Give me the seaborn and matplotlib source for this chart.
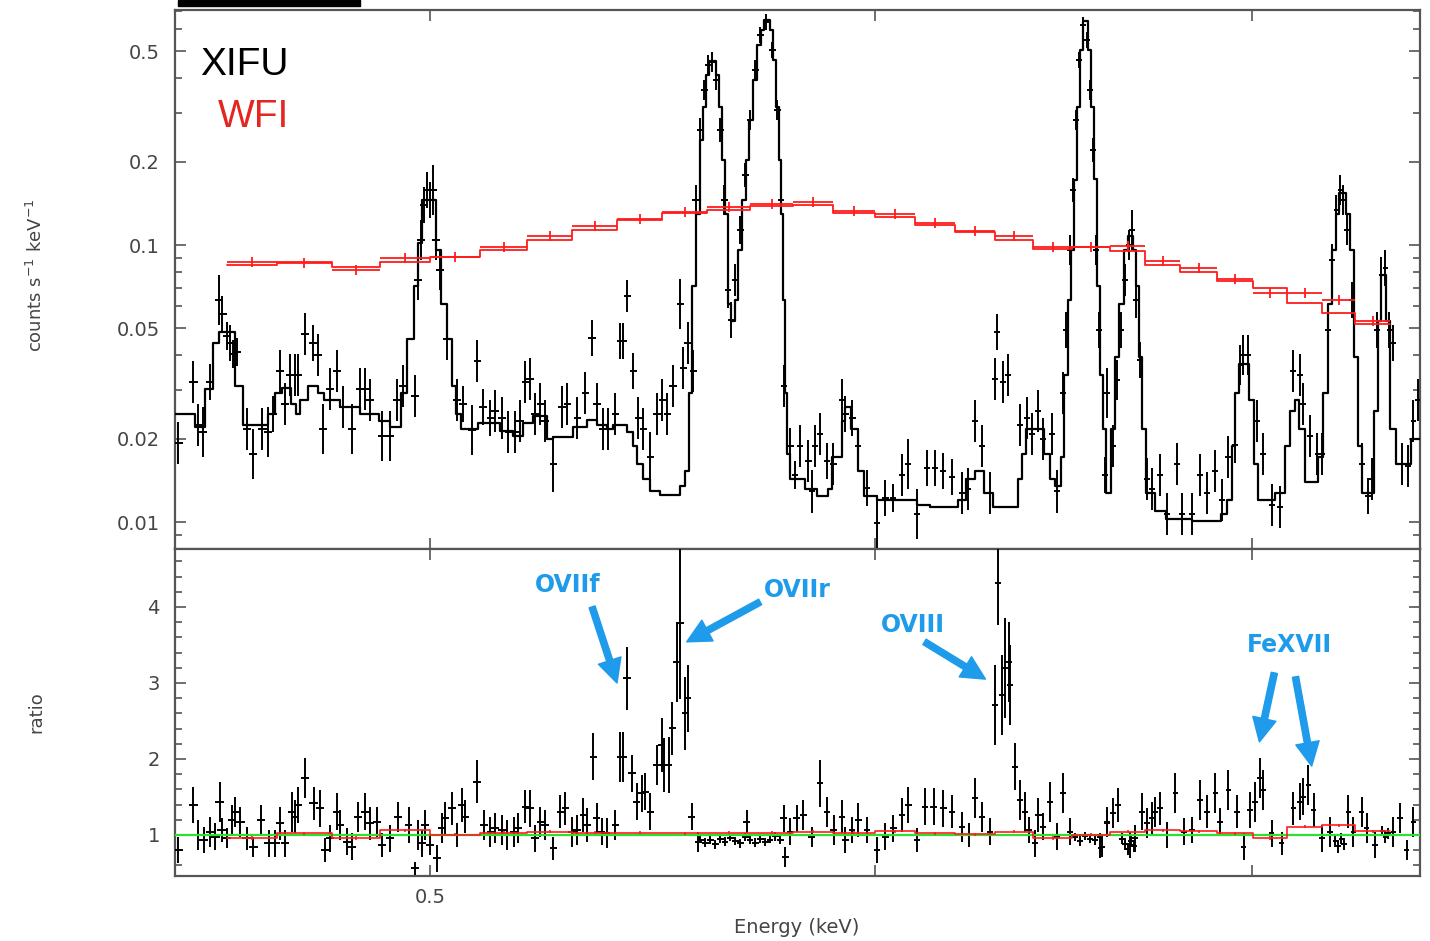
import numpy as np
import matplotlib
matplotlib.use("Agg")
import matplotlib.pyplot as plt
import seaborn as sns
from matplotlib.ticker import (FixedLocator, FixedFormatter, NullLocator,
                               NullFormatter, MultipleLocator, LogLocator)
from matplotlib.patches import Rectangle

# ---------------- XIFU model (step line, bin start energies in keV) ----------------
xifu_model_energy = [
    0.4504, 0.4541, 0.4560, 0.4575, 0.4586, 0.4616, 0.4631, 0.4679, 0.4693, 0.4706,
    0.4723, 0.4733, 0.4741, 0.4756, 0.4776, 0.4788, 0.4819, 0.4859, 0.4897, 0.4919,
    0.4941, 0.4953, 0.4968, 0.4976, 0.4984, 0.5013, 0.5023, 0.5035, 0.5045, 0.5054,
    0.5064, 0.5100, 0.5146, 0.5173, 0.5195, 0.5216, 0.5246, 0.5259, 0.5302, 0.5332,
    0.5354, 0.5376, 0.5389, 0.5421, 0.5434, 0.5443, 0.5456, 0.5472, 0.5494, 0.5539,
    0.5551, 0.5560, 0.5566, 0.5575, 0.5585, 0.5592, 0.5599, 0.5606, 0.5622, 0.5629,
    0.5636, 0.5642, 0.5649, 0.5656, 0.5666, 0.5673, 0.5682, 0.5691, 0.5698, 0.5707,
    0.5717, 0.5726, 0.5733, 0.5747, 0.5754, 0.5762, 0.5769, 0.5773, 0.5778, 0.5783,
    0.5788, 0.5795, 0.5830, 0.5859, 0.5886, 0.5895, 0.5919, 0.5927, 0.5941, 0.5958,
    0.5973, 0.6005, 0.6104, 0.6137, 0.6207, 0.6228, 0.6251, 0.6274, 0.6297, 0.6362,
    0.6372, 0.6383, 0.6430, 0.6446, 0.6459, 0.6475, 0.6483, 0.6494, 0.6502, 0.6510,
    0.6518, 0.6526, 0.6534, 0.6547, 0.6555, 0.6563, 0.6571, 0.6579, 0.6587, 0.6595,
    0.6609, 0.6620, 0.6630, 0.6644, 0.6655, 0.6669, 0.6677, 0.6685, 0.6693, 0.6704,
    0.6729, 0.6760, 0.6832, 0.6914, 0.6931, 0.6945, 0.6953, 0.6965, 0.6993, 0.7007,
    0.7019, 0.7068, 0.7097, 0.7111, 0.7126, 0.7138, 0.7155, 0.7194, 0.7209, 0.7223,
    0.7235, 0.7247, 0.7256, 0.7277, 0.7288, 0.7300, 0.7312, 0.7324, 0.7360, 0.7372,
    0.7382, 0.7397, 0.7409, 0.7427, 0.7473]
xifu_model_counts = [
    0.0245, 0.0220, 0.0302, 0.0443, 0.0485, 0.0310, 0.0224, 0.0245, 0.0292, 0.0305,
    0.0267, 0.0245, 0.0276, 0.0310, 0.0292, 0.0276, 0.0260, 0.0245, 0.0232, 0.0220,
    0.0292, 0.0458, 0.0711, 0.1017, 0.1454, 0.0959, 0.0612, 0.0458, 0.0310, 0.0245,
    0.0217, 0.0228, 0.0213, 0.0204, 0.0228, 0.0241, 0.0199, 0.0203, 0.0220, 0.0234,
    0.0224, 0.0217, 0.0224, 0.0211, 0.0188, 0.0162, 0.0143, 0.0129, 0.0125, 0.0135,
    0.0153, 0.0292, 0.0711, 0.1294, 0.2393, 0.3149, 0.4109, 0.4616, 0.4109, 0.3149,
    0.2027, 0.1294, 0.0612, 0.0532, 0.0633, 0.0959, 0.1454, 0.2027, 0.2827, 0.3941,
    0.5273, 0.5973, 0.6491, 0.5973, 0.4654, 0.3149, 0.2027, 0.1294, 0.0633, 0.0292,
    0.0176, 0.0143, 0.0132, 0.0124, 0.0132, 0.0172, 0.0232, 0.0260, 0.0217, 0.0153,
    0.0124, 0.0120, 0.0115, 0.0113, 0.0120, 0.0143, 0.0153, 0.0127, 0.0113, 0.0143,
    0.0176, 0.0217, 0.0176, 0.0143, 0.0135, 0.0172, 0.0340, 0.0633, 0.0959, 0.1717,
    0.3149, 0.5058, 0.6437, 0.5058, 0.3149, 0.1731, 0.0711, 0.0340, 0.0217, 0.0127,
    0.0217, 0.0394, 0.0612, 0.0959, 0.1078, 0.0959, 0.0711, 0.0394, 0.0217, 0.0127,
    0.0110, 0.0103, 0.0101, 0.0107, 0.0120, 0.0188, 0.0292, 0.0372, 0.0276, 0.0162,
    0.0120, 0.0127, 0.0188, 0.0252, 0.0276, 0.0217, 0.0139, 0.0172, 0.0292, 0.0612,
    0.0959, 0.1294, 0.1541, 0.1294, 0.0959, 0.0394, 0.0188, 0.0127, 0.0252, 0.0532,
    0.0779, 0.0532, 0.0217, 0.0162, 0.0199]

# ---------------- XIFU data points ----------------
xifu_energy = [
    0.4510, 0.4538, 0.4547, 0.4556, 0.4569, 0.4586, 0.4592, 0.4601, 0.4607, 0.4613,
    0.4620, 0.4639, 0.4650, 0.4668, 0.4679, 0.4689, 0.4702, 0.4712, 0.4721, 0.4731,
    0.4737, 0.4750, 0.4766, 0.4776, 0.4786, 0.4800, 0.4813, 0.4825, 0.4843, 0.4859,
    0.4869, 0.4879, 0.4903, 0.4919, 0.4933, 0.4945, 0.4970, 0.4976, 0.4982, 0.4988,
    0.4994, 0.5000, 0.5006, 0.5012, 0.5020, 0.5035, 0.5056, 0.5068, 0.5087, 0.5098,
    0.5110, 0.5125, 0.5135, 0.5150, 0.5163, 0.5177, 0.5188, 0.5199, 0.5209, 0.5220,
    0.5231, 0.5241, 0.5259, 0.5278, 0.5289, 0.5311, 0.5328, 0.5343, 0.5354, 0.5367,
    0.5378, 0.5394, 0.5405, 0.5412, 0.5421, 0.5434, 0.5445, 0.5456, 0.5472, 0.5487,
    0.5499, 0.5510, 0.5523, 0.5539, 0.5546, 0.5557, 0.5569, 0.5575, 0.5585, 0.5594,
    0.5603, 0.5612, 0.5622, 0.5631, 0.5640, 0.5649, 0.5656, 0.5666, 0.5677, 0.5689,
    0.5700, 0.5712, 0.5724, 0.5738, 0.5752, 0.5764, 0.5773, 0.5780, 0.5795, 0.5806,
    0.5818, 0.5838, 0.5854, 0.5847, 0.5866, 0.5883, 0.5898, 0.5919, 0.5927, 0.5944,
    0.5958, 0.5980, 0.6005, 0.6025, 0.6044, 0.6066, 0.6081, 0.6104, 0.6129, 0.6149,
    0.6169, 0.6192, 0.6217, 0.6233, 0.6251, 0.6269, 0.6289, 0.6307, 0.6302, 0.6323,
    0.6336, 0.6367, 0.6385, 0.6398, 0.6414, 0.6427, 0.6451, 0.6464, 0.6480, 0.6488,
    0.6499, 0.6507, 0.6515, 0.6523, 0.6534, 0.6544, 0.6552, 0.6560, 0.6568, 0.6576,
    0.6592, 0.6598, 0.6614, 0.6625, 0.6636, 0.6647, 0.6658, 0.6666, 0.6677, 0.6688,
    0.6707, 0.6721, 0.6743, 0.6762, 0.6790, 0.6804, 0.6832, 0.6854, 0.6874, 0.6896,
    0.6916, 0.6933, 0.6953, 0.6968, 0.6976, 0.6990, 0.7016, 0.7033, 0.7059, 0.7082,
    0.7120, 0.7140, 0.7149, 0.7170, 0.7191, 0.7206, 0.7223, 0.7235, 0.7247, 0.7259,
    0.7268, 0.7279, 0.7294, 0.7324, 0.7342, 0.7354, 0.7369, 0.7382, 0.7394, 0.7406,
    0.7418, 0.7445, 0.7463, 0.7479, 0.7494]
xifu_counts = [
    0.0193, 0.0320, 0.0224, 0.0211, 0.0320, 0.0633, 0.0564, 0.0469, 0.0443, 0.0404,
    0.0411, 0.0217, 0.0176, 0.0217, 0.0211, 0.0245, 0.0351, 0.0267, 0.0340, 0.0340,
    0.0340, 0.0477, 0.0443, 0.0401, 0.0217, 0.0302, 0.0351, 0.0260, 0.0217, 0.0302,
    0.0302, 0.0276, 0.0204, 0.0204, 0.0276, 0.0310, 0.0285, 0.0748, 0.1042, 0.1394,
    0.1580, 0.1454, 0.1580, 0.1042, 0.0812, 0.0458, 0.0276, 0.0267, 0.0215, 0.0381,
    0.0260, 0.0237, 0.0252, 0.0237, 0.0211, 0.0211, 0.0232, 0.0320, 0.0328, 0.0245,
    0.0267, 0.0232, 0.0162, 0.0260, 0.0267, 0.0237, 0.0292, 0.0462, 0.0267, 0.0217,
    0.0217, 0.0245, 0.0450, 0.0450, 0.0655, 0.0351, 0.0237, 0.0217, 0.0172, 0.0245,
    0.0276, 0.0245, 0.0310, 0.0612, 0.0360, 0.0443, 0.0351, 0.1454, 0.2602, 0.3627,
    0.4465, 0.4578, 0.3941, 0.2602, 0.1454, 0.0688, 0.0536, 0.0748, 0.1133, 0.1789,
    0.2827, 0.4283, 0.5730, 0.6384, 0.5058, 0.3072, 0.1454, 0.0310, 0.0188, 0.0148,
    0.0188, 0.0166, 0.0188, 0.0129, 0.0208, 0.0166, 0.0162, 0.0276, 0.0245, 0.0237,
    0.0188, 0.0133, 0.0099, 0.0122, 0.0122, 0.0148, 0.0162, 0.0107, 0.0157, 0.0157,
    0.0153, 0.0145, 0.0127, 0.0132, 0.0232, 0.0188, 0.0127, 0.0485, 0.0328, 0.0320,
    0.0340, 0.0224, 0.0237, 0.0208, 0.0252, 0.0199, 0.0208, 0.0129, 0.0292, 0.0493,
    0.0959, 0.1580, 0.2827, 0.4654, 0.6226, 0.5496, 0.3627, 0.2203, 0.0959, 0.0493,
    0.0148, 0.0292, 0.0188, 0.0325, 0.0493, 0.0748, 0.1000, 0.1133, 0.0633, 0.0384,
    0.0143, 0.0132, 0.0148, 0.0107, 0.0162, 0.0107, 0.0107, 0.0148, 0.0127, 0.0153,
    0.0120, 0.0172, 0.0190, 0.0369, 0.0401, 0.0401, 0.0232, 0.0176, 0.0115, 0.0113,
    0.0351, 0.0340, 0.0267, 0.0204, 0.0176, 0.0176, 0.0493, 0.0883, 0.1338, 0.1580,
    0.1454, 0.1133, 0.0633, 0.0162, 0.0124, 0.0143, 0.0493, 0.0779, 0.0826, 0.0493,
    0.0443, 0.0162, 0.0159, 0.0232, 0.0276]
xifu_rel_err = [
    .191, .191, .191, .231, .161, .231, .161, .123, .161, .123,
    .123, .191, .231, .191, .231, .161, .191, .191, .191, .191,
    .191, .191, .161, .191, .231, .191, .191, .191, .231, .191,
    .191, .191, .231, .231, .191, .191, .191, .181, .181, .161,
    .161, .161, .231, .181, .181, .191, .191, .161, .231, .191,
    .161, .161, .191, .191, .191, .191, .191, .191, .191, .191,
    .191, .191, .262, .191, .191, .191, .191, .161, .191, .191,
    .191, .191, .161, .161, .142, .161, .191, .191, .231, .191,
    .191, .191, .191, .231, .191, .191, .191, .133, .105, .087,
    .087, .087, .087, .105, .133, .161, .161, .142, .123, .105,
    .087, .087, .069, .069, .069, .087, .123, .191, .161, .123,
    .191, .191, .191, .191, .191, .161, .191, .191, .161, .161,
    .161, .161, .262, .161, .123, .191, .231, .231, .161, .161,
    .161, .161, .191, .191, .191, .191, .191, .161, .191, .191,
    .191, .191, .191, .191, .191, .191, .191, .191, .191, .161,
    .133, .105, .087, .069, .069, .069, .087, .105, .133, .161,
    .161, .231, .191, .181, .161, .142, .133, .181, .161, .161,
    .191, .191, .191, .191, .191, .191, .191, .191, .191, .191,
    .191, .191, .161, .181, .181, .181, .191, .191, .191, .191,
    .191, .191, .191, .191, .191, .191, .161, .142, .133, .133,
    .133, .133, .161, .191, .161, .191, .161, .161, .161, .161,
    .161, .191, .191, .191, .191]
xifu_bin_halfwidth = 0.0008

# ---------------- WFI (bins edges in keV) ----------------
wfi_edges = [0.4601, 0.4696, 0.4803, 0.4899, 0.5000, 0.5104, 0.5203, 0.5300, 0.5398,
             0.5499, 0.5601, 0.5700, 0.5802, 0.5898, 0.6000, 0.6099, 0.6200, 0.6302,
             0.6401, 0.6504, 0.6606, 0.6701, 0.6798, 0.6902, 0.7004, 0.7103, 0.7206,
             0.7303, 0.7409]
wfi_counts = [0.0868, 0.0861, 0.0812, 0.0898, 0.0905, 0.0983, 0.1078, 0.1171, 0.1241,
              0.1316, 0.1372, 0.1406, 0.1430, 0.1327, 0.1294, 0.1201, 0.1124, 0.1078,
              0.0983, 0.0983, 0.0992, 0.0875, 0.0826, 0.0754, 0.0671, 0.0671, 0.0633,
              0.0532]
wfi_model = [0.0845, 0.0870, 0.0835, 0.0870, 0.0905, 0.0960, 0.1040, 0.1130, 0.1235,
             0.1300, 0.1340, 0.1380, 0.1390, 0.1300, 0.1260, 0.1185, 0.1110, 0.1040,
             0.0970, 0.0980, 0.0955, 0.0850, 0.0800, 0.0740, 0.0700, 0.0620, 0.0570,
             0.0520]
wfi_rel_err = 0.045
wfi_ratio = [0.96, 1.02, 0.96, 1.06, 1.00, 1.03, 1.04, 1.03, 1.03, 1.02, 1.03, 1.03,
             1.04, 1.03, 1.05, 1.02, 1.01, 1.04, 0.96, 1.00, 1.04, 1.06, 1.05, 1.02,
             0.96, 1.11, 1.13, 1.05]

# ---------------- XIFU ratio data ----------------
ratio_energy = [
    0.4510, 0.4538, 0.4547, 0.4557, 0.4569, 0.4579, 0.4587, 0.4591, 0.4601, 0.4610,
    0.4616, 0.4626, 0.4638, 0.4651, 0.4665, 0.4680, 0.4693, 0.4702, 0.4712, 0.4725,
    0.4731, 0.4737, 0.4751, 0.4767, 0.4780, 0.4790, 0.4800, 0.4813, 0.4819, 0.4832,
    0.4842, 0.4855, 0.4869, 0.4879, 0.4892, 0.4902, 0.4919, 0.4935, 0.4956, 0.4970,
    0.4976, 0.4983, 0.4990, 0.5000, 0.5014, 0.5024, 0.5031, 0.5045, 0.5055, 0.5066,
    0.5073, 0.5097, 0.5111, 0.5125, 0.5135, 0.5149, 0.5160, 0.5174, 0.5184, 0.5199,
    0.5209, 0.5220, 0.5231, 0.5241, 0.5259, 0.5274, 0.5285, 0.5299, 0.5310, 0.5324,
    0.5332, 0.5346, 0.5353, 0.5364, 0.5375, 0.5394, 0.5405, 0.5412, 0.5420, 0.5431,
    0.5442, 0.5453, 0.5461, 0.5472, 0.5487, 0.5498, 0.5502, 0.5513, 0.5521, 0.5532,
    0.5539, 0.5551, 0.5556, 0.5566, 0.5581, 0.5585, 0.5596, 0.5608, 0.5619, 0.5631,
    0.5642, 0.5654, 0.5666, 0.5677, 0.5689, 0.5692, 0.5700, 0.5712, 0.5724, 0.5736,
    0.5747, 0.5759, 0.5771, 0.5779, 0.5783, 0.5795, 0.5810, 0.5826, 0.5846, 0.5866,
    0.5883, 0.5899, 0.5919, 0.5927, 0.5943, 0.5959, 0.5980, 0.6004, 0.6025, 0.6045,
    0.6066, 0.6082, 0.6103, 0.6124, 0.6145, 0.6170, 0.6191, 0.6217, 0.6234, 0.6251,
    0.6268, 0.6289, 0.6302, 0.6310, 0.6319, 0.6328, 0.6337, 0.6341, 0.6354, 0.6367,
    0.6380, 0.6389, 0.6406, 0.6415, 0.6428, 0.6446, 0.6463, 0.6481, 0.6499, 0.6512,
    0.6526, 0.6539, 0.6552, 0.6566, 0.6579, 0.6580, 0.6583, 0.6597, 0.6598, 0.6615,
    0.6628, 0.6638, 0.6647, 0.6655, 0.6660, 0.6663, 0.6671, 0.6674, 0.6692, 0.6706,
    0.6720, 0.6729, 0.6743, 0.6761, 0.6785, 0.6808, 0.6831, 0.6854, 0.6873, 0.6897,
    0.6911, 0.6934, 0.6958, 0.6977, 0.6996, 0.7010, 0.7025, 0.7034, 0.7058, 0.7087,
    0.7121, 0.7140, 0.7150, 0.7165, 0.7180, 0.7205, 0.7229, 0.7244, 0.7253, 0.7262,
    0.7270, 0.7283, 0.7298, 0.7323, 0.7338, 0.7363, 0.7385, 0.7394, 0.7403, 0.7419,
    0.7439, 0.7459, 0.7480]
ratio_value = [
    0.803, 1.395, 1.000, 0.934, 1.044, 0.978, 1.438, 1.066, 0.956, 1.197,
    1.307, 1.175, 0.956, 0.846, 1.197, 0.890, 0.890, 1.154, 0.890, 1.307,
    1.241, 1.395, 1.746, 1.417, 1.351, 0.803, 0.956, 1.307, 1.132, 0.912,
    0.846, 1.241, 1.307, 1.154, 1.175, 0.868, 0.956, 1.241, 1.132, 0.562,
    1.000, 0.890, 1.132, 0.868, 0.693, 1.088, 1.219, 1.351, 1.000, 1.395,
    1.241, 1.701, 1.132, 1.044, 1.088, 1.066, 1.000, 1.044, 1.088, 1.373,
    1.351, 0.956, 1.175, 1.132, 0.825, 1.307, 1.351, 1.044, 1.066, 1.263,
    1.132, 2.031, 1.219, 1.044, 1.022, 1.132, 2.031, 2.031, 3.061, 1.811,
    1.438, 1.548, 1.570, 1.307, 1.921, 2.184, 1.921, 1.921, 2.404, 3.281,
    3.785, 2.601, 2.799, 1.241, 0.912, 0.940, 0.900, 0.930, 0.880, 0.950,
    0.910, 0.960, 0.920, 0.890, 0.970, 1.175, 0.930, 0.900, 0.950, 0.910,
    0.940, 0.980, 0.930, 1.219, 0.715, 1.044, 1.219, 1.263, 0.978, 1.680,
    1.307, 1.066, 1.241, 0.934, 1.066, 1.197, 1.066, 0.803, 0.978, 1.088,
    1.263, 1.395, 0.934, 1.373, 1.373, 1.351, 1.307, 1.110, 1.000, 1.482,
    1.241, 1.044, 2.711, 4.312, 2.842, 3.193, 3.281, 2.974, 1.899, 1.461,
    1.307, 1.066, 0.890, 1.263, 1.110, 1.438, 0.978, 1.548, 1.044, 0.970,
    0.920, 0.990, 0.950, 0.930, 0.970, 0.825, 0.846, 1.154, 1.175, 1.285,
    1.395, 0.950, 0.880, 0.820, 0.868, 0.920, 0.860, 0.956, 1.307, 1.154,
    1.219, 1.307, 1.351, 1.000, 1.548, 1.044, 1.066, 1.461, 1.307, 1.548,
    1.175, 1.592, 1.307, 0.846, 1.329, 1.438, 1.746, 1.592, 1.022, 0.890,
    1.351, 1.438, 1.504, 1.658, 1.329, 0.956, 1.044, 0.920, 0.850, 0.950,
    0.880, 1.307, 1.044, 1.307, 1.088, 0.868, 1.050, 0.970, 1.020, 1.044,
    1.219, 0.803, 1.175]
ratio_err = [
    0.175, 0.241, 0.197, 0.175, 0.197, 0.175, 0.263, 0.154, 0.132, 0.197,
    0.197, 0.197, 0.154, 0.132, 0.197, 0.175, 0.175, 0.219, 0.175, 0.263,
    0.219, 0.241, 0.263, 0.219, 0.241, 0.154, 0.175, 0.241, 0.197, 0.175,
    0.175, 0.197, 0.241, 0.219, 0.197, 0.154, 0.175, 0.197, 0.241, 0.088,
    0.197, 0.175, 0.197, 0.132, 0.175, 0.197, 0.219, 0.219, 0.154, 0.219,
    0.219, 0.285, 0.197, 0.197, 0.197, 0.197, 0.197, 0.197, 0.197, 0.219,
    0.241, 0.175, 0.197, 0.197, 0.154, 0.219, 0.219, 0.197, 0.197, 0.219,
    0.219, 0.307, 0.197, 0.175, 0.197, 0.197, 0.329, 0.329, 0.417, 0.241,
    0.241, 0.241, 0.241, 0.241, 0.263, 0.351, 0.351, 0.373, 0.351, 0.526,
    1.000, 0.482, 0.439, 0.175, 0.132, 0.050, 0.060, 0.050, 0.060, 0.050,
    0.060, 0.040, 0.050, 0.060, 0.050, 0.154, 0.050, 0.060, 0.050, 0.050,
    0.050, 0.060, 0.050, 0.175, 0.132, 0.175, 0.175, 0.197, 0.132, 0.307,
    0.197, 0.197, 0.219, 0.175, 0.175, 0.219, 0.175, 0.175, 0.175, 0.175,
    0.219, 0.241, 0.154, 0.241, 0.241, 0.241, 0.219, 0.197, 0.154, 0.263,
    0.197, 0.175, 0.526, 0.550, 0.526, 0.658, 0.526, 0.526, 0.307, 0.263,
    0.263, 0.175, 0.175, 0.219, 0.175, 0.263, 0.175, 0.263, 0.175, 0.050,
    0.060, 0.050, 0.050, 0.060, 0.050, 0.132, 0.132, 0.175, 0.197, 0.197,
    0.219, 0.070, 0.080, 0.080, 0.175, 0.070, 0.080, 0.175, 0.241, 0.197,
    0.219, 0.197, 0.219, 0.175, 0.263, 0.175, 0.175, 0.263, 0.219, 0.263,
    0.175, 0.263, 0.219, 0.175, 0.241, 0.263, 0.263, 0.263, 0.175, 0.154,
    0.219, 0.241, 0.241, 0.263, 0.219, 0.175, 0.197, 0.080, 0.090, 0.070,
    0.080, 0.219, 0.197, 0.197, 0.197, 0.175, 0.070, 0.080, 0.070, 0.197,
    0.197, 0.132, 0.197]

count_ticks = [0.01, 0.02, 0.05, 0.1, 0.2, 0.5]
count_tick_labels = ["0.01", "0.02", "0.05", "0.1", "0.2", "0.5"]
energy_ticks = [0.5, 0.6, 0.7]
energy_tick_labels = ["0.5", "", ""]
annotations = [("OVIIf", (0.315, 0.890), [((0.335, 0.823), (0.355, 0.590))]),
               ("OVIIr", (0.4996, 0.875), [((0.470, 0.838), (0.411, 0.716))]),
               ("OVIII", (0.593, 0.768), [((0.602, 0.716), (0.651, 0.602))]),
               ("FeXVII", (0.895, 0.706), [((0.883, 0.621), (0.871, 0.410)),
                                           ((0.900, 0.609), (0.913, 0.336))])]

# ---------------- plotting ----------------
sns.set_theme(style="ticks")
plt.rcParams["font.family"] = ["DejaVu Sans"]

AX_GRAY = "#555555"
TXT_GRAY = "#454545"
RED = "#ff1c1c"
BLUE = "#1e9bea"

fig = plt.figure(figsize=(14.3, 9.41), dpi=100)
ax1 = fig.add_axes([0.1224, 0.4166, 0.8706, 0.5728])
ax2 = fig.add_axes([0.1224, 0.0691, 0.8706, 0.3475])

# top panel: XIFU model step
mE = np.append(xifu_model_energy, 0.7500)
mC = np.append(xifu_model_counts, xifu_model_counts[-1])
sns.lineplot(x=mE, y=mC, ax=ax1, drawstyle="steps-post", color="black",
             lw=1.6, estimator=None, sort=False, zorder=3)

# XIFU data crosses
xc = np.array(xifu_counts)
xr = np.array(xifu_rel_err)
ax1.errorbar(xifu_energy, xc, xerr=xifu_bin_halfwidth,
             yerr=[xc * xr / (1 + xr), xc * xr], fmt="none",
             ecolor="black", elinewidth=1.4, capsize=0, zorder=3)

# WFI
edges = np.array(wfi_edges)
centers = np.sqrt(edges[:-1] * edges[1:])
wc = np.array(wfi_counts)
sns.lineplot(x=edges, y=np.append(wfi_model, wfi_model[-1]), ax=ax1,
             drawstyle="steps-post", color=RED, lw=1.3, estimator=None,
             sort=False, zorder=4)
ax1.errorbar(centers, wc, xerr=[centers - edges[:-1], edges[1:] - centers],
             yerr=[wc * wfi_rel_err / (1 + wfi_rel_err), wc * wfi_rel_err],
             fmt="none", ecolor=RED, elinewidth=1.3, capsize=0, zorder=4)

# bottom panel
rv = np.array(ratio_value)
ax2.errorbar(ratio_energy, rv, xerr=xifu_bin_halfwidth, yerr=ratio_err,
             fmt="none", ecolor="black", elinewidth=1.4, capsize=0, zorder=3)
sns.lineplot(x=[0.4504, 0.7500], y=[1.0, 1.0], ax=ax2, color="#2ee02e",
             lw=1.6, estimator=None, zorder=4)
sns.lineplot(x=edges, y=np.append(wfi_ratio, wfi_ratio[-1]), ax=ax2,
             drawstyle="steps-post", color=RED, lw=1.2, estimator=None,
             sort=False, zorder=5)
ax2.errorbar(centers, wfi_ratio, yerr=0.02, fmt="none", ecolor=RED,
             elinewidth=1.2, capsize=0, zorder=5)

# axes formatting
for ax in (ax1, ax2):
    ax.set_xscale("log")
    ax.set_xlim(0.4504, 0.7500)
    ax.xaxis.set_major_locator(FixedLocator(energy_ticks))
    ax.xaxis.set_minor_locator(NullLocator())
    ax.xaxis.set_minor_formatter(NullFormatter())
    for sp in ax.spines.values():
        sp.set_color(AX_GRAY)
        sp.set_linewidth(1.6)
    ax.tick_params(which="both", direction="in", top=True, right=True,
                   colors=AX_GRAY, labelcolor=TXT_GRAY, labelsize=14, width=1.2)
    ax.tick_params(which="major", length=8)
    ax.tick_params(which="minor", length=5)
    ax.tick_params(axis="y", pad=11)
    ax.tick_params(axis="x", pad=9)
    ax.set_facecolor("white")

ax1.xaxis.set_major_formatter(NullFormatter())
ax2.xaxis.set_major_formatter(FixedFormatter(energy_tick_labels))

ax1.set_yscale("log")
ax1.set_ylim(0.0080, 0.705)
ax1.yaxis.set_major_locator(FixedLocator(count_ticks))
ax1.yaxis.set_major_formatter(FixedFormatter(count_tick_labels))
ax1.yaxis.set_minor_locator(LogLocator(base=10, subs=np.arange(2, 10)))
ax1.yaxis.set_minor_formatter(NullFormatter())

ax2.set_ylim(0.4605, 4.763)
ax2.yaxis.set_major_locator(MultipleLocator(1))
ax2.yaxis.set_minor_locator(MultipleLocator(0.2))

ax1.set_ylabel(r"counts s$^{-1}$ keV$^{-1}$", fontsize=13, color=TXT_GRAY)
ax1.yaxis.set_label_coords(-0.104, 0.508)
ax2.set_ylabel("ratio", fontsize=13, color=TXT_GRAY)
ax2.yaxis.set_label_coords(-0.104, 0.50)
ax2.set_xlabel("Energy (keV)", fontsize=14, color=TXT_GRAY)
ax2.xaxis.set_label_coords(0.4996, -0.128)

# instrument labels
ax1.text(0.020, 0.879, "XIFU", transform=ax1.transAxes, fontsize=28,
         color="black", family=["Liberation Sans", "DejaVu Sans"], va="baseline")
ax1.text(0.0345, 0.783, "WFI", transform=ax1.transAxes, fontsize=28,
         color="#e3261f", family=["Liberation Sans", "DejaVu Sans"], va="baseline")

# line annotations
for label, (tx, ty), arrows in annotations:
    ax2.text(tx, ty, label, transform=ax2.transAxes, ha="center", va="center",
             fontsize=17, fontweight="bold", color=BLUE, zorder=6)
    for tail, head in arrows:
        ax2.annotate("", xy=head, xytext=tail, xycoords="axes fraction",
                     textcoords="axes fraction",
                     arrowprops=dict(width=4.5, headwidth=17, headlength=17,
                                     facecolor=BLUE, edgecolor=BLUE, shrink=0),
                     zorder=6)

# black bar at the top edge of the figure
fig.add_artist(Rectangle((178 / 1430, 1 - 6 / 941), 182 / 1430, 6 / 941,
                         transform=fig.transFigure, color="black", zorder=10))

fig.savefig("out.png", dpi=100)
